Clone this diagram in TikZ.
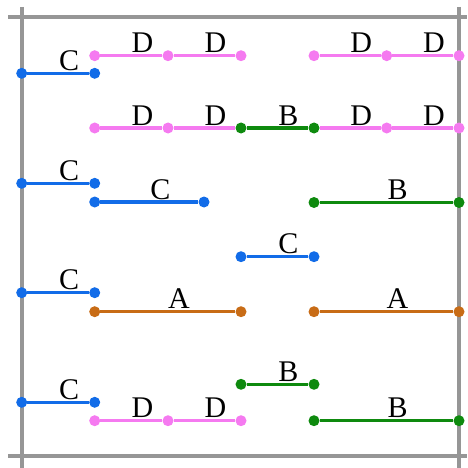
\documentclass[tikz,border=0pt]{standalone}
\usepackage{fontspec}
\setmainfont{Liberation Serif}
\definecolor{cblue}{RGB}{18,108,232}
\definecolor{cpink}{RGB}{245,122,240}
\definecolor{cgreen}{RGB}{14,138,14}
\definecolor{corange}{RGB}{200,108,22}
\definecolor{cgray}{RGB}{150,150,150}
\begin{document}
\begin{tikzpicture}[x=1pt,y=-1pt,
  frame/.style={draw=cgray,line width=4pt},
  seg/.style={line width=3.5pt},
  dot/.style={circle,inner sep=0pt,minimum size=11pt},
  lab/.style={font=\fontsize{30}{32}\selectfont,anchor=base,inner sep=0pt}]
\useasboundingbox (0,0) rectangle (467,468);
% frame
\coordinate (ltop) at (21.7,7); \coordinate (lbot) at (21.7,468);
\coordinate (rtop) at (459,7); \coordinate (rbot) at (459,468);
\coordinate (tl) at (8,17); \coordinate (tr) at (467,17);
\coordinate (bl) at (8,456); \coordinate (br) at (467,456);
\draw[frame] (ltop) -- (lbot);
\draw[frame] (rtop) -- (rbot);
\draw[frame] (tl) -- (tr);
\draw[frame] (bl) -- (br);
% row 1
\node[dot,fill=cblue] (a1) at (21.7,73.3) {};
\node[dot,fill=cblue] (a2) at (94.7,73.3) {};
\draw[seg,cblue] (a1) -- (a2);
\node[lab] (la) at (69.2,70.3) {C};
\node[dot,fill=cpink] (b1) at (94.7,55.7) {};
\node[dot,fill=cpink] (b2) at (168,55.7) {};
\node[dot,fill=cpink] (b3) at (241,55.7) {};
\draw[seg,cpink] (b1) -- (b2) -- (b3);
\node[lab] (lb1) at (142.4,52.7) {D};
\node[lab] (lb2) at (215.5,52.7) {D};
\node[dot,fill=cpink] (c1) at (314,55.7) {};
\node[dot,fill=cpink] (c2) at (386.7,55.7) {};
\node[dot,fill=cpink] (c3) at (459,55.7) {};
\draw[seg,cpink] (c1) -- (c2) -- (c3);
\node[lab] (lc1) at (361.3,52.7) {D};
\node[lab] (lc2) at (433.9,52.7) {D};
% row 2
\node[dot,fill=cpink] (d1) at (94.7,128) {};
\node[dot,fill=cpink] (d2) at (168,128) {};
\node[dot,fill=cgreen] (d3) at (241,128) {};
\node[dot,fill=cgreen] (d4) at (314,128) {};
\node[dot,fill=cpink] (d5) at (386.7,128) {};
\node[dot,fill=cpink] (d6) at (459,128) {};
\draw[seg,cpink] (d1) -- (d2) -- (d3);
\draw[seg,cgreen] (d3) -- (d4);
\draw[seg,cpink] (d4) -- (d5) -- (d6);
\node[lab] (ld1) at (142.4,125) {D};
\node[lab] (ld2) at (215.5,125) {D};
\node[lab] (ld3) at (288.5,125) {B};
\node[lab] (ld4) at (361.3,125) {D};
\node[lab] (ld5) at (433.9,125) {D};
% row 3
\node[dot,fill=cblue] (e1) at (21.7,183.3) {};
\node[dot,fill=cblue] (e2) at (94.7,183.3) {};
\draw[seg,cblue] (e1) -- (e2);
\node[lab] (le) at (69.2,180.3) {C};
\node[dot,fill=cblue] (f1) at (94.7,202) {};
\node[dot,fill=cblue] (f2) at (204,202) {};
\draw[seg,cblue] (f1) -- (f2);
\node[lab] (lf) at (160.4,199) {C};
\node[dot,fill=cgreen] (g1) at (314,202.5) {};
\node[dot,fill=cgreen] (g2) at (459,202.5) {};
\draw[seg,cgreen] (g1) -- (g2);
\node[lab] (lg) at (397.5,199.5) {B};
% row 4
\node[dot,fill=cblue] (h1) at (241,256.7) {};
\node[dot,fill=cblue] (h2) at (314,256.7) {};
\draw[seg,cblue] (h1) -- (h2);
\node[lab] (lh) at (288.5,253.7) {C};
% row 5
\node[dot,fill=cblue] (i1) at (21.7,292.7) {};
\node[dot,fill=cblue] (i2) at (94.7,292.7) {};
\draw[seg,cblue] (i1) -- (i2);
\node[lab] (li) at (69.2,289.7) {C};
\node[dot,fill=corange] (j1) at (94.7,311.7) {};
\node[dot,fill=corange] (j2) at (241,311.7) {};
\draw[seg,corange] (j1) -- (j2);
\node[lab] (lj) at (178.9,308.7) {A};
\node[dot,fill=corange] (k1) at (314,311.7) {};
\node[dot,fill=corange] (k2) at (459,311.7) {};
\draw[seg,corange] (k1) -- (k2);
\node[lab] (lk) at (397.5,308.7) {A};
% row 6
\node[dot,fill=cblue] (m1) at (21.7,402.3) {};
\node[dot,fill=cblue] (m2) at (94.7,402.3) {};
\draw[seg,cblue] (m1) -- (m2);
\node[lab] (lm) at (69.2,399.3) {C};
\node[dot,fill=cpink] (n1) at (94.7,420.7) {};
\node[dot,fill=cpink] (n2) at (168,420.7) {};
\node[dot,fill=cpink] (n3) at (241,420.7) {};
\draw[seg,cpink] (n1) -- (n2) -- (n3);
\node[lab] (ln1) at (142.4,417.7) {D};
\node[lab] (ln2) at (215.5,417.7) {D};
\node[dot,fill=cgreen] (o1) at (241,384.3) {};
\node[dot,fill=cgreen] (o2) at (314,384.3) {};
\draw[seg,cgreen] (o1) -- (o2);
\node[lab] (lo) at (288.5,381.3) {B};
\node[dot,fill=cgreen] (p1) at (314,420.7) {};
\node[dot,fill=cgreen] (p2) at (459,420.7) {};
\draw[seg,cgreen] (p1) -- (p2);
\node[lab] (lp) at (397.5,417.7) {B};
\end{tikzpicture}
\end{document}
